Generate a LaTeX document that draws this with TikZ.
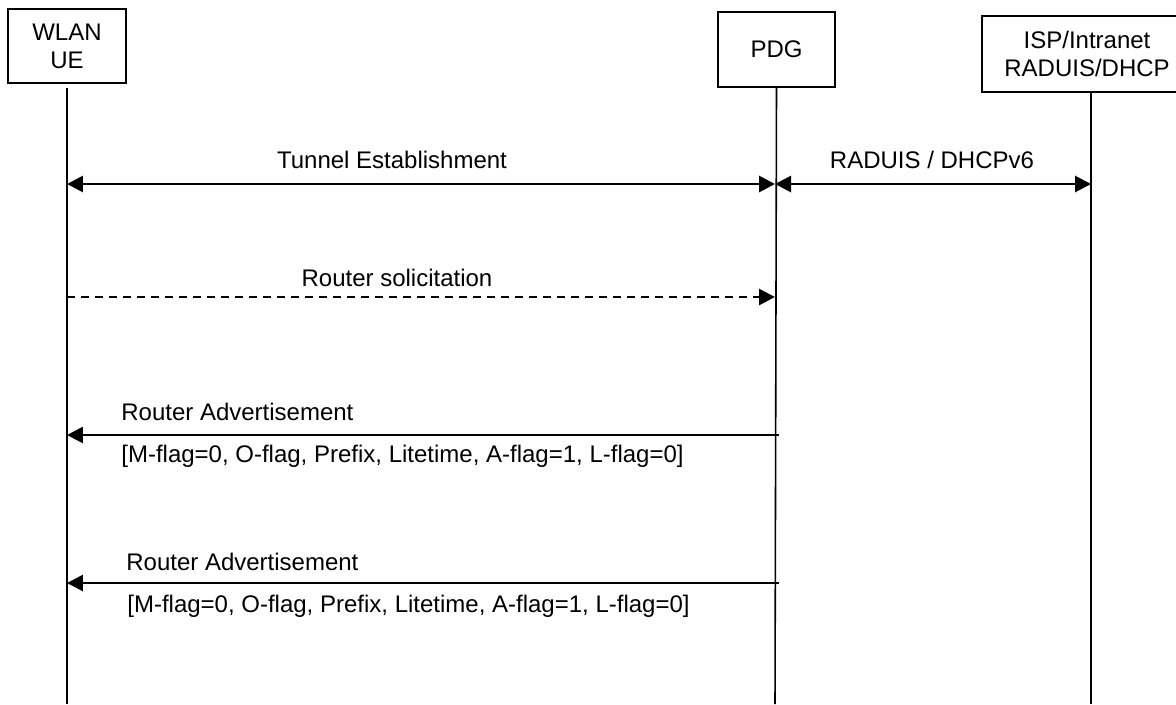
\documentclass[tikz,border=0pt]{standalone}
\usepackage{fontspec}
\setmainfont{Liberation Sans}
\usetikzlibrary{arrows.meta}
\tikzset{
  entity/.style={draw, line width=0.9pt, inner sep=0pt, align=center, font=\fontsize{13.66}{15.9}\selectfont},
  lifeline/.style={line width=0.9pt},
  msg/.style={line width=1.6pt},
  lbl/.style={inner sep=0pt, font=\fontsize{13.66}{15.9}\selectfont},
  >={Triangle[length=0.32cm,width=0.32cm]},
}
\begin{document}
\begin{tikzpicture}[x=0.02cm,y=-0.02cm]
\clip (0,0) rectangle (1176,704);
\fill[white] (0,0) rectangle (1176,704);
% entities
\node[entity, minimum width=2.36cm, minimum height=1.48cm](ue) at (67,46) {WLAN\\UE};
\node[entity, minimum width=2.34cm, minimum height=1.50cm](pdg) at (776.5,49.5) {PDG};
\node[entity, minimum width=4.2cm, minimum height=1.52cm](isp) at (1087,54) {ISP/Intranet\\RADUIS/DHCP};
%
\coordinate(ueEnd) at (67,704);
\coordinate(pdgEnd) at (775,704);
\coordinate(ispTop) at (1091,92);
\coordinate(ispEnd) at (1091,704);
\draw[lifeline, shorten <=0.08cm](ue.south) -- (ueEnd);
\draw[lifeline](pdg.south) -- (pdgEnd);
\draw[lifeline](ispTop) -- (ispEnd);
% message rows
\coordinate(ueA) at (67,184);
\coordinate(pdgA) at (775,184);
\coordinate(ispA) at (1091,184);
\coordinate(ueB) at (67,297);
\coordinate(pdgB) at (775,297);
\coordinate(ueC) at (67,435);
\coordinate(pdgC) at (779,435);
\coordinate(ueD) at (67,583);
\coordinate(pdgD) at (779,583);
%
\draw[msg,<->](ueA) -- (pdgA);
\draw[msg,<->](pdgA) -- (ispA);
\draw[msg,->,dash pattern=on 0.16cm off 0.12cm](ueB) -- (pdgB);
\draw[msg,->](pdgC) -- (ueC);
\draw[msg,->](pdgD) -- (ueD);
% labels
\node[lbl, anchor=base](tunnel) at (392,168) {Tunnel Establishment};
\node[lbl, anchor=base](radius) at (932,168) {RADUIS / DHCPv6};
\node[lbl, anchor=base](solicit) at (397,286) {Router solicitation};
\node[lbl, anchor=base west](advA) at (121,420) {Router Advertisement};
\node[lbl, anchor=base west](flagsA) at (121,462) {[M-flag=0, O-flag, Prefix, Litetime, A-flag=1, L-flag=0]};
\node[lbl, anchor=base west](advB) at (126,570) {Router Advertisement};
\node[lbl, anchor=base west](flagsB) at (127,612) {[M-flag=0, O-flag, Prefix, Litetime, A-flag=1, L-flag=0]};
\end{tikzpicture}
\end{document}
